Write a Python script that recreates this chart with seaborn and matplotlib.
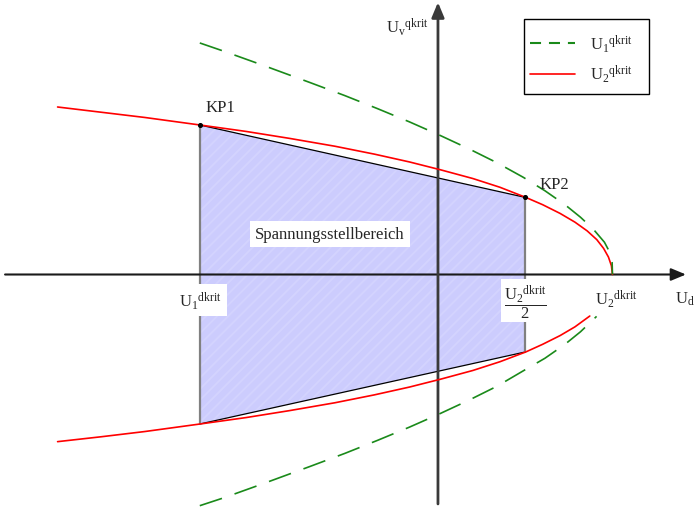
import matplotlib
matplotlib.use("Agg")
import matplotlib.pyplot as plt
from matplotlib.lines import Line2D
from matplotlib.patches import Polygon, Rectangle
import seaborn as sns

# Normalised voltages (U_d / U_2^dkrit); curves given as point lists
u1_dkrit = -1.365
u2_dkrit = 1.0

red_top_x = [-2.18, -1.93, -1.68, -1.365, -1.10, -0.85, -0.59, -0.365, -0.163, 0.015, 0.20,
             0.355, 0.503, 0.60, 0.70, 0.785, 0.855, 0.91, 0.949, 0.977, 0.994, 1.0]
red_top_y = [0.96, 0.93, 0.90, 0.857, 0.82, 0.78, 0.735, 0.69, 0.645, 0.60, 0.55,
             0.50, 0.442, 0.40, 0.35, 0.30, 0.25, 0.20, 0.15, 0.10, 0.05, 0.0]

red_bot_x = [-2.18, -1.93, -1.68, -1.365, -1.10, -0.85, -0.59, -0.365, -0.163, 0.015, 0.20,
             0.355, 0.503, 0.60, 0.70, 0.785, 0.87]
red_bot_y = [-0.958, -0.93, -0.90, -0.857, -0.82, -0.78, -0.735, -0.69, -0.645, -0.60, -0.55,
             -0.50, -0.444, -0.40, -0.35, -0.30, -0.238]

green_top_x = [-1.365, -1.228, -1.005, -0.733, -0.533, -0.345, -0.164, 0.006, 0.178, 0.339,
               0.489, 0.613, 0.728, 0.817, 0.890, 0.954, 0.983, 0.998, 1.0]
green_top_y = [1.327, 1.28, 1.20, 1.10, 1.025, 0.95, 0.875, 0.80, 0.72, 0.64,
               0.557, 0.48, 0.40, 0.328, 0.26, 0.185, 0.13, 0.07, 0.0]

green_bot_x = [-1.365, -1.228, -1.005, -0.733, -0.533, -0.345, -0.164, 0.006, 0.178, 0.339,
               0.489, 0.613, 0.728, 0.817, 0.909]
green_bot_y = [-1.325, -1.28, -1.20, -1.10, -1.025, -0.95, -0.875, -0.80, -0.72, -0.64,
               -0.552, -0.48, -0.40, -0.328, -0.24]

# Operating points KP1 / KP2 on the U_2^qkrit curve
kp_x = [u1_dkrit, u2_dkrit / 2]
kp_y = [0.857, 0.442]
kp_y_low = [-0.857, -0.444]
kp_names = ["KP1", "KP2"]

sns.set_theme(style="white")
plt.rcParams["font.family"] = ["Liberation Serif", "DejaVu Serif"]
plt.rcParams["mathtext.fontset"] = "custom"
plt.rcParams["mathtext.rm"] = "Liberation Serif"
plt.rcParams["mathtext.it"] = "Liberation Serif:italic"
plt.rcParams["hatch.linewidth"] = 1.4

W, H = 695, 510
fig = plt.figure(figsize=(W / 100, H / 100), dpi=100)
ax = fig.add_axes([0, 0, 1, 1])
ax.set_xlim(-2.510, 1.473)
ax.set_ylim(-1.344, 1.579)
ax.axis("off")

green = "#1a8a1a"

# Voltage control range
poly = Polygon([(kp_x[0], kp_y[0]), (kp_x[1], kp_y[1]),
                (kp_x[1], kp_y_low[1]), (kp_x[0], kp_y_low[0])],
               closed=True, facecolor="#ccccfd", edgecolor="#d3d3fe",
               hatch="///", linewidth=0, zorder=1)
ax.add_patch(poly)
ax.plot(kp_x, kp_y, color="black", lw=0.9, zorder=2)
ax.plot(kp_x, kp_y_low, color="black", lw=0.9, zorder=2)
for xv, yt, yb in zip(kp_x, kp_y, kp_y_low):
    ax.plot([xv, xv], [yb, yt], color="#808080", lw=1.6, zorder=2)

# Coordinate axes with arrow heads
arrow = dict(arrowstyle="-|>,head_length=0.6,head_width=0.25", lw=1.5,
             color="#1a1a1a", shrinkA=0, shrinkB=0, mutation_scale=15)
ax.annotate("", xy=(1.421, 0), xytext=(-2.481, 0), arrowprops=arrow, zorder=3)
ax.annotate("", xy=(0, 1.560), xytext=(0, -1.315),
            arrowprops=dict(arrow, color="#3a3a3a", lw=2.0), zorder=3)

# Curves
dash = (0, (14, 8))
sns.lineplot(x=red_top_x, y=red_top_y, sort=False, estimator=None, color="red", lw=1.2, ax=ax, zorder=4)
sns.lineplot(x=red_bot_x, y=red_bot_y, sort=False, estimator=None, color="red", lw=1.2, ax=ax, zorder=4)
sns.lineplot(x=green_top_x, y=green_top_y, sort=False, estimator=None, color=green, lw=1.2,
             linestyle=dash, ax=ax, zorder=5)
sns.lineplot(x=green_bot_x, y=green_bot_y, sort=False, estimator=None, color=green, lw=1.2,
             linestyle=dash, ax=ax, zorder=5)

ax.scatter(kp_x, kp_y, s=7, color="black", zorder=6)

# Labels
ax.text(kp_x[0] + 0.116, 0.937, kp_names[0], fontsize=12, ha="center", va="baseline", zorder=7)
ax.text(kp_x[1] + 0.082, 0.494, kp_names[1], fontsize=12, ha="left", va="baseline", zorder=7)
ax.text(-0.619, 0.232, "Spannungsstellbereich", fontsize=12, ha="center", va="center",
        bbox=dict(boxstyle="square,pad=0.3", fc="white", ec="none"), zorder=7)

box = dict(boxstyle="square,pad=0.3", fc="white", ec="none")
ax.text(u1_dkrit + 0.005, -0.179, r"$\mathrm{U_1{}^{dkrit}}$", fontsize=12, ha="center",
        va="baseline", bbox=box, zorder=7)
ax.text(u2_dkrit / 2, -0.15, r"$\dfrac{\mathrm{U_2{}^{dkrit}}}{\mathrm{2}}$", fontsize=12,
        ha="center", va="center", bbox=dict(boxstyle="square,pad=0.15", fc="white", ec="none"),
        zorder=7)
ax.text(u2_dkrit + 0.02, -0.169, r"$\mathrm{U_2{}^{dkrit}}$", fontsize=12, ha="center",
        va="baseline", zorder=7)
ax.text(1.358, -0.163, r"$\mathrm{U_d}$", fontsize=12, ha="left", va="baseline", zorder=7)
ax.text(-0.296, 1.39, r"$\mathrm{U_v{}^{qkrit}}$", fontsize=12, ha="left", va="baseline", zorder=7)

# Legend: frameless entries inside a drawn box
ax.add_patch(Rectangle((524 / W, 1 - 95 / H), 125 / W, 75 / H, transform=fig.transFigure,
                       facecolor="white", edgecolor="black", lw=1.0, zorder=8, clip_on=False))
handles = [Line2D([], [], color=green, lw=1.5, linestyle=(0, (5.3, 3.8))),
           Line2D([], [], color="red", lw=1.2)]
leg = ax.legend(handles, [r"$\mathrm{U_1{}^{qkrit}}$", r"$\mathrm{U_2{}^{qkrit}}$"],
                loc="upper left", bbox_to_anchor=(530 / W, 1 - 33 / H),
                bbox_transform=fig.transFigure, borderaxespad=0, borderpad=0, fontsize=12,
                handlelength=2.7, handletextpad=0.88, labelspacing=0.55, frameon=False)
leg.set_zorder(9)

fig.savefig("out.png", dpi=100)
